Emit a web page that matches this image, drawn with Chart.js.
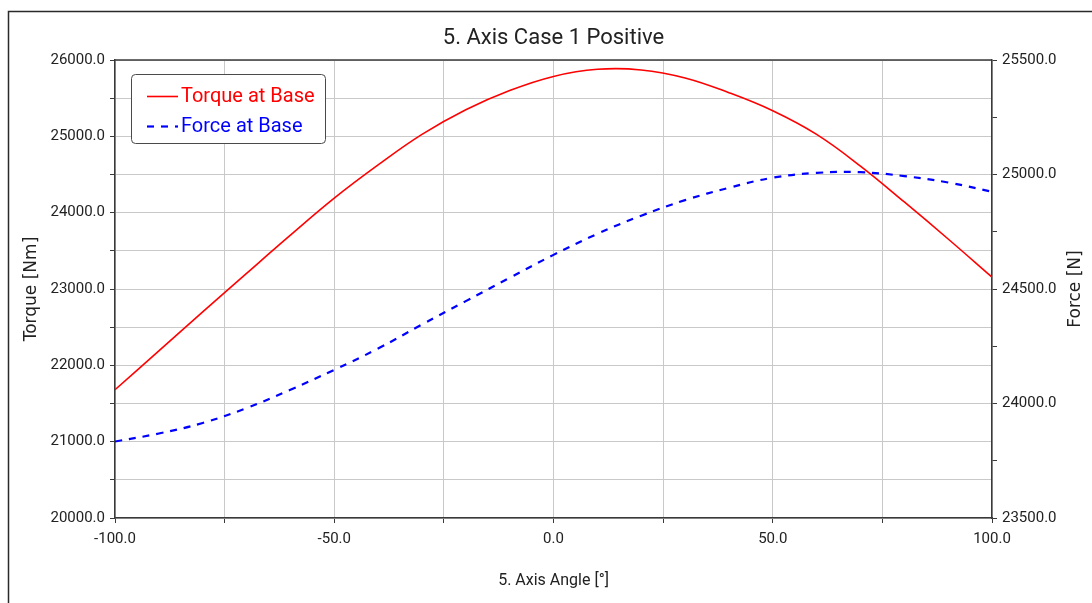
<!DOCTYPE html>
<html>
<head>
<meta charset="utf-8">
<script src="https://cdn.jsdelivr.net/npm/chart.js@4.4.1/dist/chart.umd.min.js"></script>
<style>
  html, body { margin: 0; padding: 0; background: #ffffff; }
  #wrap { width: 1092px; height: 603px; position: relative; }
</style>
</head>
<body>
<div id="wrap"><canvas id="c" width="1092" height="603"></canvas></div>
<script>
// Axis angle in degrees
const angles = [-100, -90, -80, -70, -60, -50, -40, -30, -20, -10, 0, 10, 20, 30, 40, 50, 60, 70, 80, 90, 100];
// Torque at the base [Nm]
const torqueNm = [21680, 22190, 22700, 23205, 23705, 24190, 24625, 25025, 25348, 25600, 25785, 25878, 25870, 25765, 25572, 25335, 25025, 24610, 24140, 23655, 23155];
// Force at the base [N]
const forceN = [23834, 23869, 23915, 23980, 24060, 24147, 24240, 24345, 24447, 24549, 24649, 24741, 24820, 24888, 24942, 24986, 25007, 25010, 24993, 24965, 24925];

// Labelled tick values
const xTickLabels = [-100, -50, 0, 50, 100];
const torqueTickLabels = [20000, 21000, 22000, 23000, 24000, 25000, 26000];
const forceTickLabels = [23500, 24000, 24500, 25000, 25500];

const seriesNames = ['Torque at Base', 'Force at Base'];
const chartTitle = '5. Axis Case 1 Positive';
const xTitle = '5. Axis Angle [°]';
const torqueTitle = 'Torque [Nm]';
const forceTitle = 'Force [N]';

const toPoints = (ys) => angles.map((a, i) => ({ x: a, y: ys[i] }));
const labelIf = (list) => (v) => list.includes(v) ? Number(v).toFixed(1) : '';

const GRID = '#c9c9c9';
const AXIS = '#3a3a3a';
const TEXT = '#222222';
const tickFont = { family: 'Roboto', size: 15 };

// Outer frame, plot top edge, right-hand axis title and the boxed legend
const decorations = {
  id: 'decorations',
  beforeDraw(chart) {
    const ctx = chart.ctx;
    ctx.save();
    ctx.fillStyle = '#ffffff';
    ctx.fillRect(0, 0, chart.width, chart.height);
    ctx.strokeStyle = '#2a2a2a';
    ctx.lineWidth = 1.5;
    ctx.beginPath();
    ctx.moveTo(8.5, chart.height);
    ctx.lineTo(8.5, 11.5);
    ctx.lineTo(chart.width, 11.5);
    ctx.stroke();
    ctx.restore();
  },
  afterDraw(chart) {
    const ctx = chart.ctx;
    const a = chart.chartArea;
    ctx.save();
    // top edge of the plot box
    ctx.strokeStyle = AXIS;
    ctx.lineWidth = 1.5;
    ctx.beginPath();
    ctx.moveTo(a.left, a.top);
    ctx.lineTo(a.right, a.top);
    ctx.stroke();

    // right axis title, reading upwards
    ctx.fillStyle = TEXT;
    ctx.font = '17px "DejaVu Sans"';
    ctx.textAlign = 'center';
    ctx.textBaseline = 'middle';
    ctx.translate(1076, (a.top + a.bottom) / 2);
    ctx.rotate(-Math.PI / 2);
    ctx.fillText(forceTitle, 0, 0);
    ctx.restore();

    // legend box
    ctx.save();
    const bx = 131.5, by = 74.5, bw = 194, bh = 69, r = 4;
    ctx.beginPath();
    ctx.moveTo(bx + r, by);
    ctx.lineTo(bx + bw - r, by);
    ctx.quadraticCurveTo(bx + bw, by, bx + bw, by + r);
    ctx.lineTo(bx + bw, by + bh - r);
    ctx.quadraticCurveTo(bx + bw, by + bh, bx + bw - r, by + bh);
    ctx.lineTo(bx + r, by + bh);
    ctx.quadraticCurveTo(bx, by + bh, bx, by + bh - r);
    ctx.lineTo(bx, by + r);
    ctx.quadraticCurveTo(bx, by, bx + r, by);
    ctx.closePath();
    ctx.fillStyle = '#ffffff';
    ctx.fill();
    ctx.strokeStyle = '#4a4a4a';
    ctx.lineWidth = 1;
    ctx.stroke();

    const rows = [{ y: 96.5, base: 102 }, { y: 126.5, base: 132 }];
    chart.data.datasets.forEach((ds, i) => {
      const row = rows[i];
      ctx.strokeStyle = ds.borderColor;
      ctx.lineWidth = ds.borderWidth;
      ctx.setLineDash(ds.borderDash || []);
      ctx.beginPath();
      ctx.moveTo(147, row.y);
      ctx.lineTo(178, row.y);
      ctx.stroke();
      ctx.setLineDash([]);
      ctx.fillStyle = ds.borderColor;
      ctx.font = '20px Roboto';
      ctx.textAlign = 'left';
      ctx.textBaseline = 'alphabetic';
      ctx.fillText(ds.label, 181, row.base);
    });
    ctx.restore();
  }
};

new Chart(document.getElementById('c'), {
  type: 'line',
  data: {
    datasets: [
      {
        label: seriesNames[0],
        data: toPoints(torqueNm),
        yAxisID: 'yT',
        borderColor: '#ff0000',
        borderWidth: 1.6,
        pointRadius: 0,
        fill: false,
        tension: 0.4
      },
      {
        label: seriesNames[1],
        data: toPoints(forceN),
        yAxisID: 'yF',
        borderColor: '#0000ff',
        borderWidth: 2.2,
        borderDash: [7, 7],
        pointRadius: 0,
        fill: false,
        tension: 0.4
      }
    ]
  },
  options: {
    responsive: false,
    devicePixelRatio: 1,
    animation: false,
    layout: { padding: 0 },
    plugins: {
      legend: { display: false },
      tooltip: { enabled: false },
      title: {
        display: true,
        text: chartTitle,
        fullSize: false,
        color: TEXT,
        font: { family: 'Roboto', size: 22, weight: 'normal' },
        padding: { top: 25, bottom: 8.6 }
      }
    },
    scales: {
      x: {
        type: 'linear',
        position: 'bottom',
        min: -100,
        max: 100,
        ticks: {
          stepSize: 25,
          autoSkip: false,
          maxRotation: 0,
          padding: 7,
          color: TEXT,
          font: tickFont,
          callback: labelIf(xTickLabels)
        },
        grid: { color: GRID, lineWidth: 1, tickLength: 5, tickColor: AXIS, tickWidth: 1 },
        border: { color: AXIS, width: 1.5 },
        title: {
          display: true,
          text: xTitle,
          color: TEXT,
          font: { family: 'Roboto', size: 16 },
          padding: { top: 0, bottom: 12 }
        },
        afterFit(scale) { scale.height = 85; }
      },
      yT: {
        type: 'linear',
        position: 'left',
        min: 20000,
        max: 26000,
        ticks: {
          stepSize: 500,
          autoSkip: false,
          padding: 5,
          color: TEXT,
          font: tickFont,
          callback: labelIf(torqueTickLabels)
        },
        grid: { color: GRID, lineWidth: 1, tickLength: 5, tickColor: AXIS, tickWidth: 1 },
        border: { color: AXIS, width: 1.5 },
        title: {
          display: true,
          text: torqueTitle,
          color: TEXT,
          font: { family: 'DejaVu Sans', size: 17 },
          padding: { top: 21, bottom: 0 }
        },
        afterFit(scale) { scale.width = 115; }
      },
      yF: {
        type: 'linear',
        position: 'right',
        min: 23500,
        max: 25500,
        ticks: {
          stepSize: 250,
          autoSkip: false,
          padding: 5,
          color: TEXT,
          font: tickFont,
          callback: labelIf(forceTickLabels)
        },
        grid: { drawOnChartArea: false, tickLength: 5, tickColor: AXIS, tickWidth: 1 },
        border: { color: AXIS, width: 1.5 },
        afterFit(scale) { scale.width = 100; }
      }
    }
  },
  plugins: [decorations]
});
</script>
</body>
</html>
